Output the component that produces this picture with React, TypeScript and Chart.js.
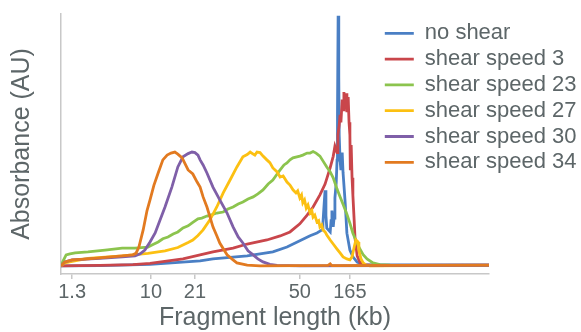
import { useEffect, useRef } from 'react';
import { Chart, registerables } from 'chart.js';

Chart.register(...registerables);

// Series names (legend order)
const seriesNames = ['no shear', 'shear speed 3', 'shear speed 23', 'shear speed 27', 'shear speed 30', 'shear speed 34'];

// x-axis: migration position (0-100), labelled with fragment length (kb)
const tickPositions = [2.6, 21.0, 31.3, 55.8, 67.5];
const tickLabels = ['1.3', '10', '21', '50', '165'];

// [position, absorbance] pairs
const noShear: [number, number][] = [
  [0, 0], [9.1, 0.1], [20.8, 0.6], [32.5, 2.0], [35.5, 2.8], [43.5, 4.0], [49.5, 5.6], [52.8, 7.5], [55.8, 10.0],
  [58.2, 12.0], [59.8, 13.1], [61.0, 14.3], [61.2, 17], [61.5, 25], [61.7, 30], [61.9, 20], [62.1, 15], [62.9, 13.5],
  [63.1, 18], [63.3, 22], [63.6, 15.5], [63.8, 19], [64.0, 27], [64.3, 33], [64.5, 42], [64.6, 60], [64.75, 99.3],
  [64.9, 75], [65.0, 52], [65.2, 42], [65.4, 38], [65.7, 45], [65.9, 37], [66.4, 25], [66.8, 13], [67.5, 6.3],
  [68.2, 3.6], [69.2, 1.5], [69.9, 1.0], [71.0, 0.5], [80, 0.4], [100, 0.4],
];
const shear3: [number, number][] = [
  [0, 0], [9.1, 0.2], [16.8, 0.5], [20.8, 1.0], [28.5, 2.8], [35.5, 5.6], [40.2, 7.1], [43.5, 8.7], [48.1, 10.3],
  [51.2, 11.9], [53.5, 13.5], [55.8, 16.7], [57.5, 20.2], [58.9, 23.4], [60.5, 28.2], [61.7, 32.5], [62.9, 39],
  [63.6, 43.5], [64.0, 47.5], [64.5, 45], [64.7, 52], [65.0, 56], [65.2, 60], [65.4, 57], [65.7, 66], [65.9, 62],
  [66.1, 69], [66.4, 64], [66.6, 68.5], [66.8, 61], [67.1, 67], [67.3, 57], [67.5, 52], [67.6, 38], [67.8, 48],
  [68.0, 35], [68.2, 28], [68.5, 18], [68.7, 11], [69.2, 4], [69.9, 1.2], [71.0, 0.4], [73.4, 0.2], [100, 0.3],
];
const shear23: [number, number][] = [
  [0, 0], [0.5, 2.0], [1.2, 4.4], [2.1, 4.8], [3.3, 5.2], [6.3, 5.6], [10.3, 6.3], [14.3, 7.1], [17.3, 7.1],
  [20.3, 7.5], [21.5, 8.5], [22.7, 9.5], [23.8, 10.8], [25.0, 11.5], [26.2, 12.7], [27.3, 13.5], [28.5, 15.1],
  [29.7, 15.9], [30.8, 17.3], [32.0, 18.7], [32.9, 19.0], [34.1, 19.8], [35.3, 20.4], [36.4, 21.0], [37.9, 21.4],
  [39.0, 22.6], [40.2, 23.4], [41.4, 24.6], [42.5, 25.4], [43.7, 26.6], [44.9, 27.4], [46.0, 28.6], [47.2, 30.2],
  [48.4, 32.5], [49.5, 34.1], [50.5, 36.5], [51.2, 38.1], [52.1, 40.1], [52.8, 40.9], [53.5, 42.1], [54.2, 42.9],
  [55.1, 43.3], [55.8, 43.6], [56.5, 44.0], [57.5, 44.8], [58.2, 44.8], [58.9, 45.4], [59.6, 44.8], [60.5, 43.6],
  [61.2, 41.7], [62.1, 39.3], [62.9, 37.3], [63.6, 35], [64.5, 30.5], [65.2, 27.5], [65.9, 24.5], [66.8, 20.5],
  [67.5, 17.0], [68.2, 13.0], [69.2, 9.0], [69.9, 6.5], [70.6, 4.5], [71.5, 2.8], [72.9, 1.2], [74.5, 0.5],
  [76.9, 0.3], [100, 0.2],
];
const shear27: [number, number][] = [
  [0, 0], [0.9, 1.2], [2.6, 1.8], [6.3, 3.0], [14.3, 4.0], [20.3, 5.0], [24.3, 6.0], [27.3, 7.3], [29.7, 9.3],
  [30.8, 10.3], [32.0, 12.1], [33.2, 14.3], [34.8, 18.3], [36.4, 23.4], [37.9, 29.0], [39.5, 34.1], [41.1, 39.3],
  [42.5, 43.3], [43.5, 44.2], [44.2, 45.2], [44.9, 44.4], [45.3, 44.0], [45.8, 45.2], [46.5, 45.0], [47.2, 43.6],
  [48.1, 42.1], [48.8, 41.0], [49.5, 38.9], [50.5, 37.3], [51.2, 35.3], [51.9, 35.7], [52.8, 33.3], [53.5, 32.1],
  [54.2, 30.2], [54.9, 29.0], [55.3, 29.8], [55.8, 27.0], [56.2, 28.2], [56.5, 25.0], [56.9, 26.2], [57.3, 23.0],
  [57.7, 24.2], [58.2, 21.0], [58.6, 22.0], [58.9, 19.4], [59.3, 20.2], [59.8, 17.5], [60.2, 18.0], [60.5, 15.5],
  [60.9, 16.3], [61.2, 14.3], [61.7, 13.5], [62.1, 12.3], [62.9, 10.3], [63.6, 8.7], [64.5, 6.7], [65.2, 5.2],
  [65.9, 3.6], [66.8, 2.8], [67.5, 2.4], [68.0, 3.6], [68.5, 7.5], [68.9, 10.3], [69.4, 9.5], [69.6, 6.0],
  [70.1, 2.8], [70.6, 1.2], [71.3, 0.3], [72.2, 0], [100, 0.2],
];
const shear30: [number, number][] = [
  [0, 0], [0.9, 1.6], [2.6, 2.4], [9.1, 3.0], [14.3, 3.6], [17.3, 4.0], [18.5, 4.8], [19.6, 6.3], [20.8, 9.5],
  [22.0, 13.1], [23.1, 18.0], [24.3, 23.4], [25.9, 31.3], [27.3, 39.3], [28.5, 43.3], [29.7, 44.6], [30.6, 45.2],
  [31.3, 45.0], [32.0, 44.0], [32.5, 42.1], [33.2, 40.1], [34.1, 36.9], [35.5, 31.3], [37.1, 26.2], [38.8, 21.0],
  [40.2, 15.5], [41.4, 11.5], [42.5, 9.1], [43.7, 6.0], [44.9, 4.4], [46.0, 2.8], [47.2, 1.6], [48.8, 0.6],
  [50.5, 0.2], [55.8, 0], [100, 0.2],
];
const shear34: [number, number][] = [
  [0, 0], [0.9, 1.6], [2.6, 2.4], [6.3, 2.8], [9.1, 3.2], [14.3, 4.0], [16.8, 4.4], [17.5, 5.0], [18.2, 7.5],
  [19.2, 14.3], [20.1, 22], [20.8, 26.2], [21.7, 32], [22.7, 36.9], [23.8, 42.1], [24.8, 44.0], [25.7, 44.8],
  [26.6, 45.2], [27.3, 44.4], [28.3, 42.9], [29.7, 38.1], [30.8, 36.5], [31.8, 33.3], [32.5, 31.3], [33.2, 27.4],
  [34.1, 23.4], [34.8, 19.5], [35.5, 15.5], [36.4, 12.0], [37.1, 9.1], [38.1, 6.3], [38.8, 4.4], [40.2, 2.4],
  [41.1, 1.2], [43.5, 0.3], [46.5, 0], [55.8, 0.1], [62.4, 0.2], [62.9, 0.8], [63.3, 0.1], [79.2, 0.2], [100, 0.3],
];

const seriesData = [noShear, shear3, shear23, shear27, shear30, shear34];
const seriesColors = ['#4a7fc4', '#c9464b', '#8cc44e', '#fcc012', '#7f5fa8', '#e27a20'];

const TEXT = '#5d6668';
const AXIS = '#c8c8c8';

export default function App() {
  const ref = useRef<HTMLCanvasElement>(null);

  useEffect(() => {
    if (!ref.current) return;
    Chart.defaults.font.family = "'Liberation Sans', Arial, sans-serif";
    const n = seriesData.length;
    const chart = new Chart(ref.current, {
      type: 'line',
      data: {
        datasets: seriesData.map((pts, i) => ({
          label: seriesNames[i],
          data: pts.map(([x, y]) => ({ x, y })),
          borderColor: seriesColors[i],
          backgroundColor: seriesColors[i],
          borderWidth: 2.8,
          pointRadius: 0,
          tension: 0,
          order: n - 1 - i,
        })),
      },
      options: {
        animation: false,
        responsive: true,
        maintainAspectRatio: false,
        layout: { padding: { left: 8, top: 14, right: 92, bottom: 1 } },
        plugins: {
          legend: {
            position: 'chartArea',
            align: 'start',
            labels: {
              usePointStyle: true,
              pointStyle: 'line',
              pointStyleWidth: 29,
              padding: 3.8,
              color: TEXT,
              font: { size: 22 },
              sort: (a: any, b: any) => a.datasetIndex - b.datasetIndex,
            },
          },
          tooltip: { enabled: false },
        },
        scales: {
          x: {
            type: 'linear',
            min: 0,
            max: 100,
            afterBuildTicks: (s: any) => {
              s.ticks = tickPositions.map((v) => ({ value: v }));
            },
            afterFit: (s: any) => {
              s.height = 57;
            },
            ticks: {
              autoSkip: false,
              maxRotation: 0,
              padding: 1,
              color: TEXT,
              font: { size: 20 },
              callback: (_v: any, i: number) => tickLabels[i],
            },
            grid: { display: true, drawOnChartArea: false, drawTicks: true, tickLength: 5, color: AXIS, lineWidth: 1.5 },
            border: { display: true, color: AXIS, width: 1.5 },
            title: { display: true, text: 'Fragment length (kb)', color: TEXT, font: { size: 25, lineHeight: 1 }, padding: 0 },
          },
          y: {
            min: -3.2,
            max: 100,
            afterFit: (s: any) => {
              s.width = 53;
            },
            ticks: { display: false },
            grid: { display: false },
            border: { display: true, color: AXIS, width: 1.5 },
            title: { display: true, text: 'Absorbance (AU)', color: TEXT, font: { size: 25, lineHeight: 1 }, padding: { top: 2, bottom: 0 } },
          },
        },
      },
      plugins: [
        {
          id: 'placeLegend',
          afterLayout(c: any) {
            const lg = c.legend;
            if (!lg) return;
            lg.left = 381;
            lg.top = 18.5;
            lg.right = lg.left + lg.width;
            lg.bottom = lg.top + 200;
          },
        },
      ],
    } as any);
    return () => chart.destroy();
  }, []);

  return (
    <div style={{ position: 'absolute', left: 0, top: 0, width: 581, height: 332 }}>
      <canvas ref={ref} />
    </div>
  );
}
